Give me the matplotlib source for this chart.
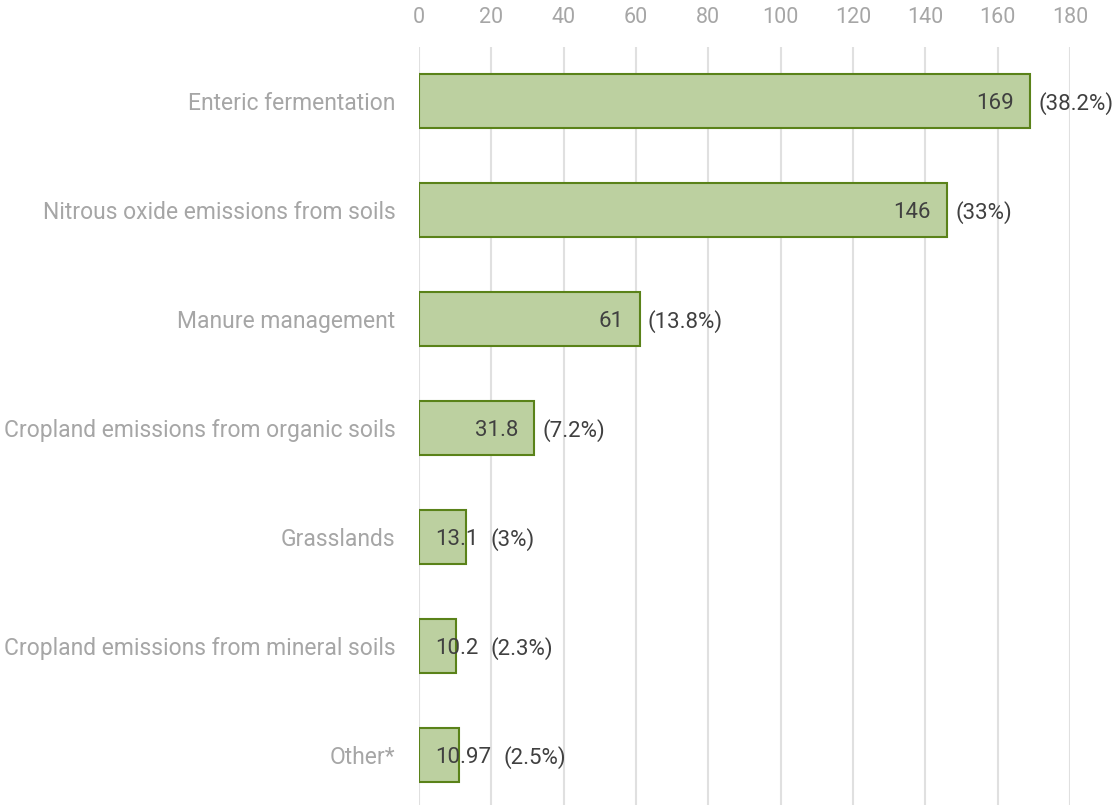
import matplotlib
matplotlib.use("Agg")
import matplotlib.pyplot as plt

categories = ["Enteric fermentation", "Nitrous oxide emissions from soils", "Manure management",
              "Cropland emissions from organic soils", "Grasslands",
              "Cropland emissions from mineral soils", "Other*"]
values = [169, 146, 61, 31.8, 13.1, 10.2, 10.97]
value_labels = ["169", "146", "61", "31.8", "13.1", "10.2", "10.97"]
pct_labels = ["(38.2%)", "(33%)", "(13.8%)", "(7.2%)", "(3%)", "(2.3%)", "(2.5%)"]
xticks = [0, 20, 40, 60, 80, 100, 120, 140, 160, 180]

plt.rcParams['font.family'] = ['Roboto', 'DejaVu Sans']

W, H = 1119, 809
fig = plt.figure(figsize=(W / 100, H / 100), dpi=100)
ax = fig.add_axes([419 / W, (H - 805) / H, (1070 - 419) / W, (805 - 47) / H])

y = list(range(len(categories)))
ax.barh(y, values, height=0.5, color="#bcd0a0", edgecolor="#5a8219", linewidth=1.5, zorder=3)
ax.set_ylim(6.46, -0.495)
ax.set_xlim(0, 180)
ax.set_xticks(xticks)
ax.set_yticks(y)
ax.set_yticklabels(categories, fontsize=16.5, color="#a6a6a6")
ax.xaxis.tick_top()
ax.tick_params(axis="x", length=0, pad=14, labelsize=15.5, labelcolor="#a6a6a6")
ax.tick_params(axis="y", length=0, pad=17)
ax.grid(axis="x", color="#e0e0e0", linewidth=1.5, zorder=0)
for s in ax.spines.values():
    s.set_visible(False)

fig.canvas.draw()
r = fig.canvas.get_renderer()
inv = ax.transData.inverted()
for i, v in enumerate(values):
    bar_end_px = ax.transData.transform((v, 0))[0]
    x0_px = ax.transData.transform((0, 0))[0]
    t = ax.text(v, i, value_labels[i], ha="right", va="center_baseline", fontsize=16,
                color="#404040", zorder=4)
    bb = t.get_window_extent(r)
    wpx = bb.width
    right_px = max(bar_end_px - 16, x0_px + 16 + wpx)
    t.set_x(inv.transform((right_px, 0))[0])
    pct_px = max(bar_end_px + 8, right_px + 12)
    ax.text(inv.transform((pct_px, 0))[0], i, pct_labels[i], ha="left", va="center_baseline",
            fontsize=16, color="#404040", zorder=4)

fig.savefig("out.png", dpi=100, facecolor="white")
